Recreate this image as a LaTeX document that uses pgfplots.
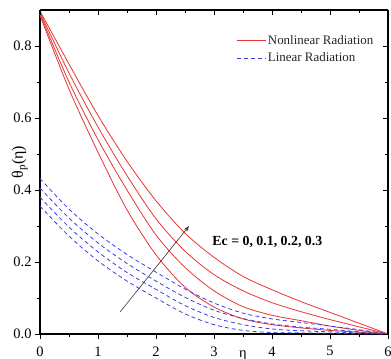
\documentclass[border=0pt]{standalone}
\usepackage{fontspec}
\setmainfont{Liberation Serif}
\usepackage{pgfplots}
\pgfplotsset{compat=1.18}
\usepackage{pgfplotstable}
\usetikzlibrary{arrows.meta}
\definecolor{myred}{RGB}{232,52,52}
\definecolor{myblue}{RGB}{60,60,230}
\pgfplotstableread{
eta R0 R1 R2 R3
0.0 0.885 0.889 0.893 0.897
0.5 0.680 0.700 0.725 0.750
1.0 0.505 0.540 0.575 0.607
1.5 0.345 0.400 0.440 0.480
2.0 0.220 0.275 0.320 0.370
2.5 0.130 0.185 0.230 0.280
3.0 0.075 0.120 0.165 0.213
3.5 0.042 0.076 0.120 0.160
4.0 0.026 0.052 0.087 0.123
4.5 0.017 0.037 0.062 0.090
5.0 0.010 0.022 0.040 0.060
5.5 0.005 0.010 0.020 0.030
6.0 0.000 0.000 0.000 0.000
}\redtab
\pgfplotstableread{
eta B0 B1 B2 B3
0.0 0.355 0.380 0.405 0.432
0.5 0.272 0.297 0.322 0.347
1.0 0.203 0.228 0.253 0.278
1.5 0.147 0.171 0.196 0.221
2.0 0.100 0.124 0.147 0.172
2.5 0.056 0.079 0.102 0.125
3.0 0.026 0.046 0.066 0.086
3.5 0.010 0.026 0.043 0.058
4.0 0.004 0.014 0.028 0.042
4.5 0.003 0.009 0.019 0.032
5.0 0.002 0.006 0.013 0.022
5.5 0.001 0.003 0.006 0.012
6.0 0.000 0.000 0.000 0.000
}\bluetab
\begin{document}
\begin{tikzpicture}
\begin{axis}[
  at={(0,0)}, anchor=south west,
  scale only axis, width=348bp, height=324bp,
  xmin=0, xmax=6, ymin=0, ymax=0.9,
  xtick={0,1,2,3,4,5,6}, ytick={0,0.2,0.4,0.6,0.8},
  minor x tick num=1, minor y tick num=1,
  axis x line*=bottom, axis y line*=left,
  tick align=outside,
  major tick length=5bp, minor tick length=3bp,
  axis line style={line width=1.3bp},
  every tick/.style={line width=1bp, black},
  /pgf/number format/assume math mode=true,
  ticklabel style={font=\fontsize{14.5}{17}\selectfont},
  xticklabel style={yshift=-4bp},
  yticklabel style={/pgf/number format/.cd, fixed, fixed zerofill, precision=1},
  clip=false,
  legend style={draw=none, fill=none, at={(0.563,0.929)}, anchor=north west,
    font=\fontsize{13}{15}\selectfont, row sep=3bp, inner sep=0pt,
    cells={anchor=west}, text=black!85},
  legend image code/.code={\draw[#1] (0bp,0bp) -- (29bp,0bp);},
]
\addlegendimage{draw=myred, line width=0.8bp}
\addlegendentry{Nonlinear Radiation}
\addlegendimage{draw=myblue, line width=0.8bp, dash pattern=on 4bp off 3bp}
\addlegendentry{Linear Radiation}
\addplot[color=myred, line width=0.8bp, smooth, forget plot] table[x=eta, y=R0] {\redtab};
\addplot[color=myred, line width=0.8bp, smooth, forget plot] table[x=eta, y=R1] {\redtab};
\addplot[color=myred, line width=0.8bp, smooth, forget plot] table[x=eta, y=R2] {\redtab};
\addplot[color=myred, line width=0.8bp, smooth, forget plot] table[x=eta, y=R3] {\redtab};
\addplot[color=myblue, line width=0.8bp, smooth, dash pattern=on 4bp off 3bp, forget plot] table[x=eta, y=B0] {\bluetab};
\addplot[color=myblue, line width=0.8bp, smooth, dash pattern=on 4bp off 3bp, forget plot] table[x=eta, y=B1] {\bluetab};
\addplot[color=myblue, line width=0.8bp, smooth, dash pattern=on 4bp off 3bp, forget plot] table[x=eta, y=B2] {\bluetab};
\addplot[color=myblue, line width=0.8bp, smooth, dash pattern=on 4bp off 3bp, forget plot] table[x=eta, y=B3] {\bluetab};
\addplot[black!80, line width=0.6bp, -{Stealth[length=6bp,width=4bp]}, forget plot] coordinates {(1.38,0.061) (2.57,0.30)};
\node[anchor=base west, font=\bfseries\fontsize{13.9}{16}\selectfont, inner sep=0pt] at (axis cs:2.97,0.247) {Ec = 0, 0.1, 0.2, 0.3};
\node[anchor=base, font=\fontsize{14.5}{17}\selectfont, inner sep=0pt, yshift=-23bp] at (axis cs:3.5,0) {η};
\node[rotate=90, anchor=center, font=\fontsize{16}{18}\selectfont] at (axis description cs:-0.058,0.53) {θ\textsubscript{p}(η)};
\end{axis}
\begin{axis}[
  at={(0,0)}, anchor=south west,
  scale only axis, width=348bp, height=324bp,
  xmin=0, xmax=6, ymin=0, ymax=0.9,
  xtick={0,1,2,3,4,5,6}, ytick={0,0.2,0.4,0.6,0.8},
  minor x tick num=1, minor y tick num=1,
  axis x line*=top, axis y line*=right,
  tick align=inside,
  major tick length=5bp, minor tick length=3bp,
  axis line style={line width=1.3bp},
  every tick/.style={line width=1bp, black},
  xticklabels={}, yticklabels={},
]
\end{axis}
\pgfresetboundingbox
\path (-40bp,-25bp) rectangle (351bp,334bp);
\end{tikzpicture}
\end{document}
